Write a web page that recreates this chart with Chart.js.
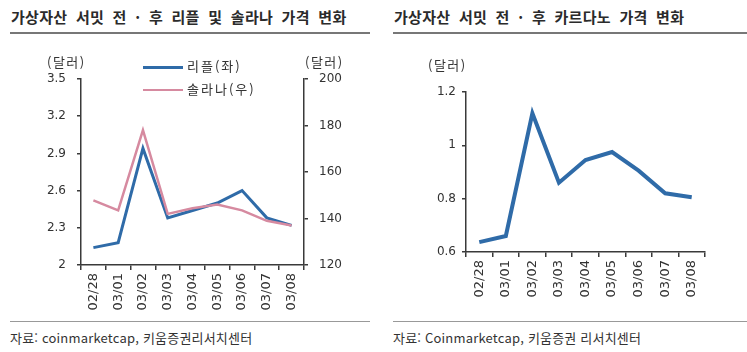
<!DOCTYPE html>
<html lang="ko">
<head>
<meta charset="utf-8">
<script src="https://cdn.jsdelivr.net/npm/chart.js@4.4.1/dist/chart.umd.min.js"></script>
<style>
  body { margin: 0; background: #fff; }
  #wrap { position: relative; width: 747px; height: 352px; overflow: hidden; font-family: "Noto Sans CJK KR", sans-serif; color: #333; }
  .title { position: absolute; top: 7px; font-size: 15px; font-weight: bold; line-height: 20px; white-space: nowrap; color: #2b2b2b; word-spacing: 4px; letter-spacing: 0.3px; }
  .rule { position: absolute; top: 32px; height: 2px; background: #777; }
  .foot { position: absolute; top: 321px; height: 1px; background: #999; }
  .src { position: absolute; top: 330px; font-size: 13px; line-height: 16px; white-space: nowrap; letter-spacing: 0.2px; }
  .unit { position: absolute; font-size: 13px; line-height: 14px; white-space: nowrap; letter-spacing: 1.5px; }
  canvas { position: absolute; top: 0; }
  .leg { position: absolute; left: 143px; font-size: 13px; line-height: 16px; white-space: nowrap; letter-spacing: 2px; }
  .leg span { display: inline-block; width: 40px; height: 3px; vertical-align: middle; margin-right: 4px; }
</style>
</head>
<body>
<div id="wrap">
  <div class="title" style="left:11px">가상자산 서밋 전 · 후 리플 및 솔라나 가격 변화</div>
  <div class="rule" style="left:10px; width:360px"></div>
  <div class="title" style="left:394px">가상자산 서밋 전 · 후 카르다노 가격 변화</div>
  <div class="rule" style="left:393px; width:354px"></div>

  <canvas id="left" width="370" height="320" style="left:0"></canvas>
  <canvas id="right" width="372" height="320" style="left:375px"></canvas>

  <div class="unit" style="left:47px; top:55px">(달러)</div>
  <div class="unit" style="left:305px; top:55px">(달러)</div>
  <div class="unit" style="left:428px; top:58px">(달러)</div>

  <div class="leg" style="top:58px"><span style="background:#2f6ba8"></span>리플(좌)</div>
  <div class="leg" style="top:81px"><span style="background:#d68aa0; height:2px"></span>솔라나(우)</div>

  <div class="foot" style="left:10px; width:360px"></div>
  <div class="src" style="left:10px">자료: coinmarketcap, 키움증권리서치센터</div>
  <div class="foot" style="left:393px; width:354px"></div>
  <div class="src" style="left:393px">자료: Coinmarketcap, 키움증권 리서치센터</div>
</div>

<script>
const dates = ['02/28', '03/01', '03/02', '03/03', '03/04', '03/05', '03/06', '03/07', '03/08'];
const ripple = [2.14, 2.18, 2.94, 2.38, 2.44, 2.50, 2.60, 2.38, 2.32];
const solana = [147.8, 143.5, 178, 142, 144.4, 146, 143.5, 139, 137];
const cardano = [0.637, 0.66, 1.12, 0.86, 0.945, 0.975, 0.905, 0.82, 0.805];

const rippleTicks = [2, 2.3, 2.6, 2.9, 3.2, 3.5];
const solanaTicks = [120, 140, 160, 180, 200];
const cardanoTicks = [0.6, 0.8, 1, 1.2];

const BLUE = '#2f6ba8';
const PINK = '#d68aa0';
const AXIS = '#3a3a3a';
const TICK_FONT = { family: 'DejaVu Sans', size: 12 };

function yAxis(position, ticksArr, width, pad) {
  return {
    position: position,
    min: ticksArr[0],
    max: ticksArr[ticksArr.length - 1],
    afterBuildTicks: s => { s.ticks = ticksArr.map(v => ({ value: v })); },
    afterFit: s => { s.width = width; },
    grid: { drawOnChartArea: false, tickLength: 4, color: AXIS, lineWidth: 1.5 },
    border: { display: true, color: AXIS, width: 1.5 },
    ticks: { color: '#333', font: TICK_FONT, padding: pad, callback: v => String(v) }
  };
}

function xAxis(height) {
  return {
    offset: true,
    afterFit: s => { s.height = height; },
    grid: { offset: true, drawOnChartArea: false, tickLength: 5, color: AXIS, lineWidth: 1.5 },
    border: { display: true, color: AXIS, width: 1.5 },
    ticks: { color: '#333', font: { family: 'DejaVu Sans', size: 13 }, minRotation: 90, maxRotation: 90, autoSkip: false, padding: 3 }
  };
}

new Chart(document.getElementById('left'), {
  type: 'line',
  data: {
    labels: dates,
    datasets: [
      { label: '리플(좌)', data: ripple, yAxisID: 'y', borderColor: BLUE, borderWidth: 3, pointRadius: 0, tension: 0, order: 1 },
      { label: '솔라나(우)', data: solana, yAxisID: 'y1', borderColor: PINK, borderWidth: 2.5, pointRadius: 0, tension: 0, order: 0 }
    ]
  },
  options: {
    responsive: false,
    animation: false,
    layout: { padding: { top: 79, bottom: 5, left: 0, right: 21 } },
    plugins: { legend: { display: false }, tooltip: { enabled: false } },
    scales: {
      x: xAxis(50),
      y: yAxis('left', rippleTicks, 81, 11),
      y1: yAxis('right', solanaTicks, 45, 11)
    }
  }
});

new Chart(document.getElementById('right'), {
  type: 'line',
  data: {
    labels: dates,
    datasets: [
      { label: '카르다노', data: cardano, borderColor: BLUE, borderWidth: 4, pointRadius: 0, tension: 0 }
    ]
  },
  options: {
    responsive: false,
    animation: false,
    layout: { padding: { top: 92, bottom: 13, left: 0, right: 42 } },
    plugins: { legend: { display: false }, tooltip: { enabled: false } },
    scales: {
      x: xAxis(55),
      y: yAxis('left', cardanoTicks, 91, 6)
    }
  }
});
</script>
</body>
</html>
